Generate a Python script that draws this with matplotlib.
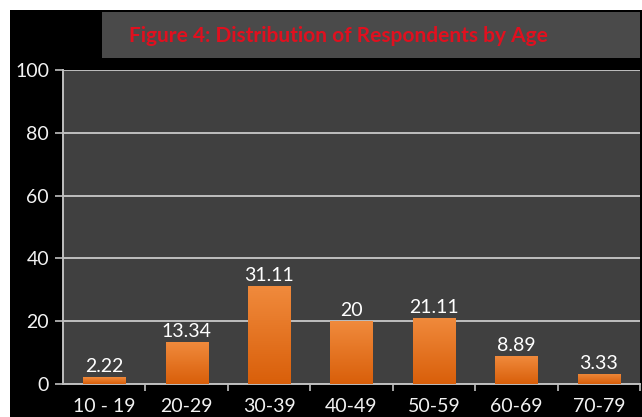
import numpy as np
import matplotlib.pyplot as plt
from matplotlib.patches import Rectangle
from matplotlib.colors import LinearSegmentedColormap

# Respondents by age group (percent)
age_groups = ["10 - 19", "20-29", "30-39", "40-49", "50-59", "60-69", "70-79"]
percent = [2.22, 13.34, 31.11, 20, 21.11, 8.89, 3.33]
value_labels = ["2.22", "13.34", "31.11", "20", "21.11", "8.89", "3.33"]
y_ticks = [0, 20, 40, 60, 80, 100]

plt.rcParams["font.family"] = ["Lato", "DejaVu Sans"]

fig = plt.figure(figsize=(6.42, 4.17), dpi=100)
fig.patch.set_facecolor("white")

# black slide background, with thin white margin top/left
fig.patches.append(Rectangle((10 / 642, 0), 1, 1 - 10 / 417, transform=fig.transFigure,
                             facecolor="black", edgecolor="none", zorder=-2))

# title banner
fig.patches.append(Rectangle((102 / 642, 1 - 58 / 417), 538 / 642, 46 / 417,
                             transform=fig.transFigure, facecolor="#4a4a4a",
                             edgecolor="none", zorder=-1))
fig.text(338 / 642, 1 - 36 / 417, "Figure 4: Distribution of Respondents by Age",
         color="#e0101f", fontsize=15, fontweight="bold", ha="center", va="center", zorder=2)

ax = fig.add_axes([63 / 642, 33 / 417, 577 / 642, 314 / 417])
ax.set_facecolor("#404040")

# orange bars, lighter towards the top
orange = LinearSegmentedColormap.from_list("orange", ["#d95f0a", "#f08a3c"])
grad = np.linspace(0, 1, 100).reshape(-1, 1)
x = range(len(age_groups))
bars = ax.bar(x, percent, width=0.51, color="#e46c0a", zorder=3)
for b in bars:
    im = ax.imshow(grad, cmap=orange, origin="lower", aspect="auto", zorder=3.5,
                   extent=(b.get_x(), b.get_x() + b.get_width(), 0, b.get_height()))
    im.set_clip_path(b)
for xi, v, lab in zip(x, percent, value_labels):
    ax.text(xi, v + 0.6, lab, ha="center", va="bottom", color="white", fontsize=14, zorder=4)

ax.set_xlim(-0.5, len(age_groups) - 0.5)
ax.set_ylim(0, 100)
ax.set_yticks(y_ticks)
ax.set_xticks(list(x))
ax.set_xticklabels(age_groups)
ax.set_xticks([i + 0.5 for i in range(len(age_groups))], minor=True)

ax.grid(axis="y", color="#bfbfbf", linewidth=1.4, zorder=1)
ax.tick_params(axis="y", colors="#bfbfbf", labelcolor="#f2f2f2", labelsize=14, length=6, width=1.2, pad=4)
ax.tick_params(axis="x", which="major", length=0, pad=10, labelcolor="#f2f2f2", labelsize=14)
ax.tick_params(axis="x", which="minor", length=5, width=1.2, colors="#bfbfbf", direction="out")

for side in ["top", "right"]:
    ax.spines[side].set_visible(False)
ax.spines["left"].set_color("#bfbfbf")
ax.spines["left"].set_linewidth(1.4)
ax.spines["bottom"].set_color("#bfbfbf")
ax.spines["bottom"].set_linewidth(1.4)

fig.savefig("out.png", dpi=100, facecolor=fig.get_facecolor())
